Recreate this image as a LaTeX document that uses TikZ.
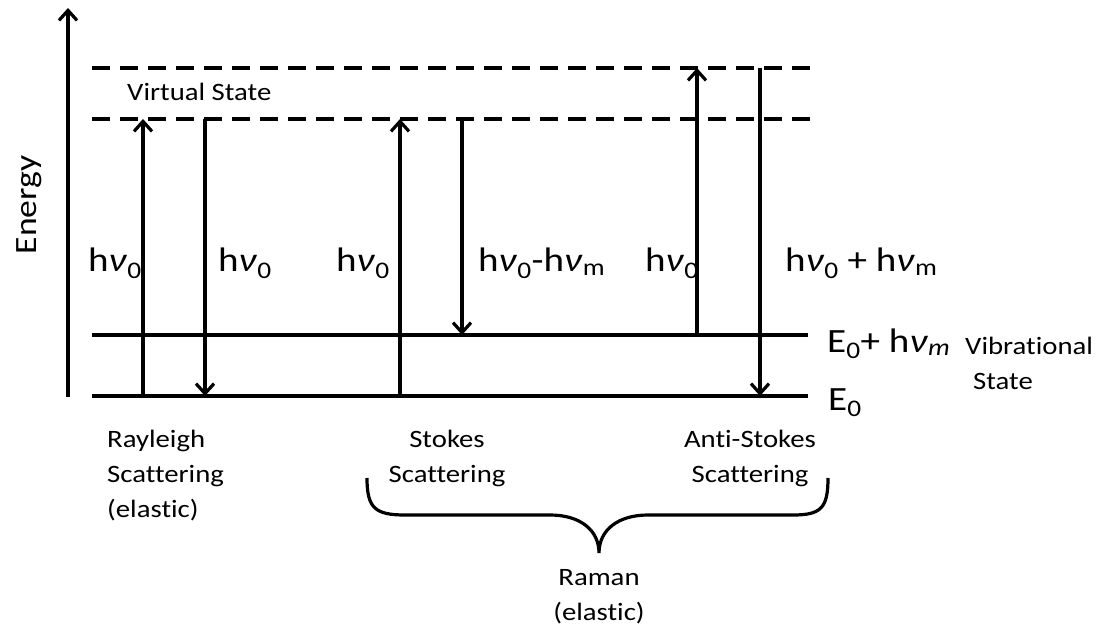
\documentclass[tikz,border=0pt]{standalone}
\usepackage{fontspec}
\setmainfont[FakeStretch=1.15, Ligatures=NoCommon]{Carlito}
\usetikzlibrary{arrows.meta}
\tikzset{
  lvl/.style={line width=3.2pt},
  vlvl/.style={line width=3.2pt, dash pattern=on 18pt off 10pt},
  tr/.style={line width=3.2pt, -{Straight Barb[length=10pt,width=18pt]}},
  small/.style={font=\fontsize{25}{35}\selectfont, inner sep=0pt},
  big/.style={font=\fontsize{34}{40}\selectfont, inner sep=0pt, anchor=base west},
}
\newcommand{\hnu}{h\textit{ν}}
\begin{document}
\begin{tikzpicture}[x=1pt,y=-1pt]
\useasboundingbox (0,0) rectangle (1101,631);
% energy axis
\coordinate (ax0) at (68,397);
\coordinate (ax1) at (68,8);
\draw[tr] (ax0) -- (ax1);
\node[small, font=\fontsize{31}{35}\selectfont, rotate=90, anchor=center] (energy) at (29,205) {Energy};
% virtual levels
\coordinate (v1a) at (92,68);  \coordinate (v1b) at (810,68);
\coordinate (v0a) at (92,119); \coordinate (v0b) at (810,119);
\draw[vlvl] (v1a) -- (v1b);
\draw[vlvl] (v0a) -- (v0b);
\node[small, anchor=base west] (virt) at (127,101) {Virtual State};
% real levels
\coordinate (e1a) at (92,335); \coordinate (e1b) at (808,335);
\coordinate (e0a) at (92,396); \coordinate (e0b) at (808,396);
\draw[lvl] (e1a) -- (e1b);
\draw[lvl] (e0a) -- (e0b);
% transitions
\coordinate (r1s) at (143,396); \coordinate (r1e) at (143,119);
\coordinate (r2s) at (205,119); \coordinate (r2e) at (205,396);
\coordinate (s1s) at (400,396); \coordinate (s1e) at (400,119);
\coordinate (s2s) at (462,119); \coordinate (s2e) at (462,335);
\coordinate (a1s) at (697,335); \coordinate (a1e) at (697,68);
\coordinate (a2s) at (760,68);  \coordinate (a2e) at (760,396);
\draw[tr] (r1s) -- (r1e);
\draw[tr] (r2s) -- (r2e);
\draw[tr] (s1s) -- (s1e);
\draw[tr] (s2s) -- (s2e);
\draw[tr] (a1s) -- (a1e);
\draw[tr] (a2s) -- (a2e);
% transition labels
\node[big] (l1) at (88,272) {\hnu\textsubscript{0}};
\node[big] (l2) at (218,272) {\hnu\textsubscript{0}};
\node[big] (l3) at (336,272) {\hnu\textsubscript{0}};
\node[big] (l4) at (478,272) {\hnu\textsubscript{0}-\hnu\textsubscript{m}};
\node[big] (l5) at (645,272) {\hnu\textsubscript{0}};
\node[big] (l6) at (785,272) {\hnu\textsubscript{0} + \hnu\textsubscript{m}};
% level labels
\node[big] (le1) at (827,352) {E\textsubscript{0}+ \hnu\textsubscript{\textit{m}}};
\node[big] (le0) at (828,410) {E\textsubscript{0}};
\node[small, align=left, anchor=base west] (vib) at (965,389) {Vibrational\\\hspace*{8pt}State};
% process labels
\node[small, align=left, anchor=base west] (ray) at (107,517) {Rayleigh\\Scattering\\(elastic)};
\node[small, align=center, anchor=base] (sto) at (447,482) {Stokes\\Scattering};
\node[small, align=center, anchor=base] (ast) at (750,482) {Anti-Stokes\\Scattering};
\node[small, align=center, anchor=base] (ram) at (599,620) {Raman\\(elastic)};
% brace
\coordinate (bl) at (367,478);
\coordinate (bt) at (599,553);
\coordinate (br) at (828,478);
\draw[line width=3.2pt]
  (bl) .. controls (367,508) and (375,515) .. (405,515)
  -- (550,515) .. controls (580,515) and (599,530) .. (bt)
  .. controls (599,530) and (618,515) .. (648,515)
  -- (793,515) .. controls (821,515) and (828,508) .. (br);
\end{tikzpicture}
\end{document}
